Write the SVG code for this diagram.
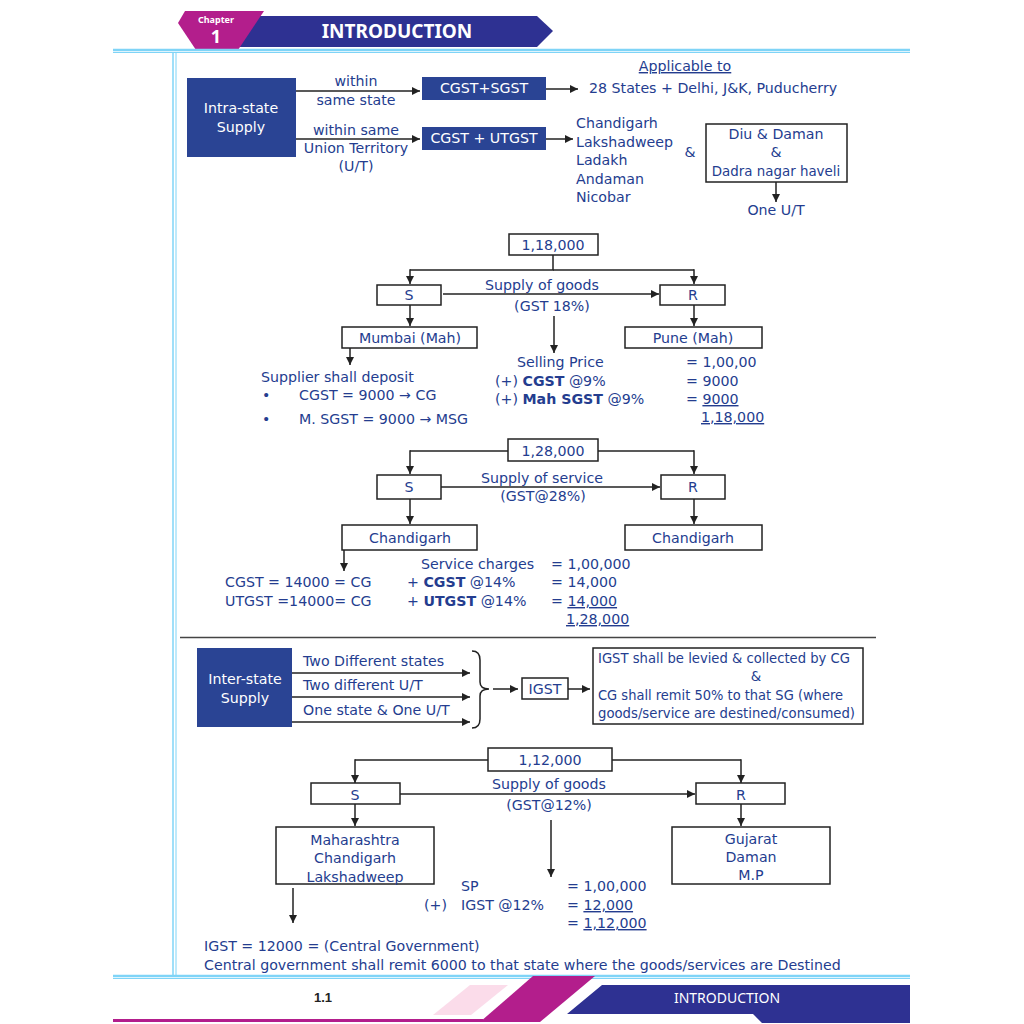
<svg xmlns="http://www.w3.org/2000/svg" width="1024" height="1024" viewBox="0 0 1024 1024">
<defs>
<marker id="ah" viewBox="0 0 10 10" refX="10" refY="5" markerWidth="8" markerHeight="8" markerUnits="userSpaceOnUse" orient="auto"><path d="M0,0 L10,5 L0,10 z" fill="#222"/></marker>
<style>
text{font-family:"DejaVu Sans","Noto Sans",sans-serif;font-size:14.2px;fill:#243d8f}
.c{text-anchor:middle}
.w{fill:#fff}
.b{font-weight:bold}
.u{text-decoration:underline}
.hd{font-family:"Noto Sans","Liberation Sans",sans-serif}
.sm{font-size:13.4px}
.box{fill:#fff;stroke:#222;stroke-width:1.5}
.dbox{fill:#2a4494}
.ln{fill:none;stroke:#222;stroke-width:1.5}
.ar{fill:none;stroke:#222;stroke-width:1.5;marker-end:url(#ah)}
.cy{stroke:#7fd4f7;fill:none}
</style>
</defs>
<rect width="1024" height="1024" fill="#fff"/>
<g id="page">
<polygon points="238,16 537,16 553,31 537,47 230,47" fill="#2e3192"/>
<polygon points="178,23 185,11 264,11 238,50 196,50" fill="#b31e8c"/>
<text x="216" y="23" class="c w b hd" style="font-size:9px">Chapter</text>
<text x="216" y="43" class="c w b hd" style="font-size:18px">1</text>
<text x="397" y="38" class="c w b hd" style="font-size:19px">INTRODUCTION</text>
<line x1="113" y1="50" x2="910" y2="50" class="cy" stroke-width="2.5"/>
<line x1="113" y1="52.5" x2="910" y2="52.5" class="cy" stroke-width="1"/>
<line x1="173" y1="52" x2="173" y2="976" class="cy" stroke-width="1.5"/>
<line x1="176" y1="52" x2="176" y2="976" class="cy" stroke-width="1"/>
<line x1="113" y1="976" x2="910" y2="976" class="cy" stroke-width="2.5"/>
<line x1="113" y1="978.5" x2="910" y2="978.5" class="cy" stroke-width="1"/>
<text x="323" y="1002" class="c b" style="font-size:13px;fill:#222;font-family:'Liberation Sans',sans-serif">1.1</text>
<rect x="113" y="1019" width="370" height="3" fill="#b31e8c"/>
<polygon points="433,1015 471,1015 508,985 470,985" fill="#fbdcea"/>
<polygon points="533,976 595,976 540,1022 480,1022" fill="#b31e8c"/>
<polygon points="602,985 910,985 910,1023 762,1023 753,1014 567,1014" fill="#2e3192"/>
<text x="727" y="1003" class="c w hd" style="font-size:14px">INTRODUCTION</text>
</g>
<g id="connectors">
<line x1="296" y1="91" x2="420" y2="91" class="ar"/>
<line x1="546" y1="89" x2="578" y2="89" class="ar"/>
<line x1="296" y1="139" x2="420" y2="139" class="ar"/>
<line x1="546" y1="139" x2="573" y2="139" class="ar"/>
<line x1="776" y1="182" x2="776" y2="202" class="ar"/>
<polyline points="553,255 553,270 410,270" class="ln"/>
<line x1="410" y1="269.3" x2="410" y2="284" class="ar"/>
<polyline points="553,270 694,270" class="ln"/>
<line x1="694" y1="269.3" x2="694" y2="284" class="ar"/>
<line x1="443" y1="294" x2="659" y2="294" class="ar"/>
<line x1="410" y1="305" x2="410" y2="326" class="ar"/>
<line x1="694" y1="305" x2="694" y2="326" class="ar"/>
<line x1="554" y1="316" x2="554" y2="353" class="ar"/>
<line x1="350" y1="348" x2="350" y2="365" class="ar"/>
<polyline points="508,451 410,451" class="ln"/>
<line x1="410" y1="450.3" x2="410" y2="474" class="ar"/>
<polyline points="598,451 694,451" class="ln"/>
<line x1="694" y1="450.3" x2="694" y2="474" class="ar"/>
<line x1="441" y1="487" x2="660" y2="487" class="ar"/>
<line x1="410" y1="499" x2="410" y2="524" class="ar"/>
<line x1="694" y1="499" x2="694" y2="524" class="ar"/>
<line x1="344" y1="550" x2="344" y2="571" class="ar"/>
<line x1="292" y1="673" x2="470" y2="673" class="ar"/>
<line x1="292" y1="697" x2="470" y2="697" class="ar"/>
<line x1="292" y1="722" x2="470" y2="722" class="ar"/>
<path d="M472,651 Q480,651 480,660 L480,682 Q480,689 489,689 Q480,689 480,696 L480,719 Q480,728 472,728" class="ln"/>
<line x1="493" y1="689" x2="518" y2="689" class="ar"/>
<line x1="568" y1="689" x2="590" y2="689" class="ar"/>
<polyline points="488,760 355,760" class="ln"/>
<line x1="355" y1="759.3" x2="355" y2="783" class="ar"/>
<polyline points="612,760 741,760" class="ln"/>
<line x1="741" y1="759.3" x2="741" y2="783" class="ar"/>
<line x1="400" y1="794" x2="695" y2="794" class="ar"/>
<line x1="355" y1="804" x2="355" y2="826" class="ar"/>
<line x1="741" y1="804" x2="741" y2="826" class="ar"/>
<line x1="551" y1="820" x2="551" y2="877" class="ar"/>
<line x1="293" y1="888" x2="293" y2="923" class="ar"/>
<line x1="180" y1="637.5" x2="876" y2="637.5" stroke="#444" stroke-width="1.5"/>
</g>
<g id="intra">
<rect x="187" y="78" width="109" height="79" class="dbox"/>
<text x="241" y="113" class="c w">Intra-state</text>
<text x="241" y="132" class="c w">Supply</text>
</g>
<g id="labels1">
<text x="356" y="86" class="c">within</text>
<text x="356" y="105" class="c">same state</text>
<text x="356" y="135" class="c">within same</text>
<text x="356" y="153" class="c">Union Territory</text>
<text x="356" y="171" class="c">(U/T)</text>
</g>
<g id="cgstsgst">
<rect x="422" y="77" width="124" height="23" class="dbox"/>
<text x="484" y="93" class="c w">CGST+SGST</text>
</g>
<g id="cgstutgst">
<rect x="422" y="127" width="124" height="23" class="dbox"/>
<text x="484" y="143" class="c w">CGST + UTGST</text>
</g>
<g id="applicable">
<text x="685" y="71" class="c u">Applicable to</text>
<text x="589" y="93">28 States + Delhi, J&amp;K, Puducherry</text>
</g>
<g id="utlist">
<text x="576" y="128">Chandigarh</text>
<text x="576" y="147">Lakshadweep</text>
<text x="576" y="165">Ladakh</text>
<text x="576" y="184">Andaman</text>
<text x="576" y="202">Nicobar</text>
<text x="690" y="157" class="c">&amp;</text>
</g>
<g id="diu">
<rect x="706" y="124" width="141" height="58" class="box"/>
<text x="776" y="139" class="c">Diu &amp; Daman</text>
<text x="776" y="157" class="c">&amp;</text>
<text x="776" y="176" class="c sm">Dadra nagar haveli</text>
<text x="776" y="215" class="c">One U/T</text>
</g>
<g id="ex1">
<rect x="509" y="234" width="89" height="21" class="box"/>
<text x="553" y="250" class="c">1,18,000</text>
<rect x="377" y="285" width="64" height="20" class="box"/>
<text x="409" y="300" class="c">S</text>
<rect x="660" y="285" width="65" height="20" class="box"/>
<text x="693" y="300" class="c">R</text>
<text x="542" y="290" class="c">Supply of goods</text>
<text x="552" y="311" class="c">(GST 18%)</text>
<rect x="342" y="327" width="135" height="21" class="box"/>
<text x="410" y="343" class="c">Mumbai (Mah)</text>
<rect x="625" y="327" width="137" height="21" class="box"/>
<text x="693" y="343" class="c">Pune (Mah)</text>
<text x="261" y="382">Supplier shall deposit</text>
<text x="262" y="400">•</text>
<text x="299" y="400">CGST = 9000 → CG</text>
<text x="262" y="424">•</text>
<text x="299" y="424">M. SGST = 9000 → MSG</text>
<text x="517" y="367">Selling Price</text>
<text x="495" y="386">(+) <tspan class="b">CGST</tspan> @9%</text>
<text x="495" y="404">(+) <tspan class="b">Mah SGST</tspan> @9%</text>
<text x="686" y="367">= 1,00,00</text>
<text x="686" y="386">= 9000</text>
<text x="686" y="404">= <tspan class="u">9000</tspan></text>
<text x="701" y="422" class="u">1,18,000</text>
</g>
<g id="ex2">
<rect x="508" y="439" width="90" height="22" class="box"/>
<text x="553" y="456" class="c">1,28,000</text>
<rect x="377" y="475" width="64" height="24" class="box"/>
<text x="409" y="492" class="c">S</text>
<rect x="661" y="475" width="64" height="24" class="box"/>
<text x="693" y="492" class="c">R</text>
<text x="542" y="483" class="c">Supply of service</text>
<text x="543" y="501" class="c">(GST@28%)</text>
<rect x="342" y="525" width="135" height="25" class="box"/>
<text x="410" y="543" class="c">Chandigarh</text>
<rect x="625" y="525" width="137" height="25" class="box"/>
<text x="693" y="543" class="c">Chandigarh</text>
<text x="225" y="587">CGST = 14000 = CG</text>
<text x="225" y="606">UTGST =14000= CG</text>
<text x="421" y="569">Service charges</text>
<text x="407" y="587">+ <tspan class="b">CGST</tspan> @14%</text>
<text x="407" y="606">+ <tspan class="b">UTGST</tspan> @14%</text>
<text x="551" y="569">= 1,00,000</text>
<text x="551" y="587">= 14,000</text>
<text x="551" y="606">= <tspan class="u">14,000</tspan></text>
<text x="566" y="624" class="u">1,28,000</text>
</g>
<g id="inter">
<rect x="197" y="648" width="95" height="79" class="dbox"/>
<text x="245" y="684" class="c w">Inter-state</text>
<text x="245" y="703" class="c w">Supply</text>
<text x="303" y="666">Two Different states</text>
<text x="303" y="690">Two different U/T</text>
<text x="303" y="715">One state &amp; One U/T</text>
</g>
<g id="igst">
<rect x="522" y="678" width="46" height="21" class="box"/>
<text x="545" y="694" class="c">IGST</text>
</g>
<g id="igstnote">
<rect x="593" y="648" width="270" height="76" class="box"/>
<text x="598" y="663" class="sm" textLength="252" lengthAdjust="spacingAndGlyphs">IGST shall be levied &amp; collected by CG</text>
<text x="756" y="681" class="c sm">&amp;</text>
<text x="598" y="700" class="sm" textLength="245" lengthAdjust="spacingAndGlyphs">CG shall remit 50% to that SG (where</text>
<text x="598" y="718" class="sm" textLength="257" lengthAdjust="spacingAndGlyphs">goods/service are destined/consumed)</text>
</g>
<g id="ex3">
<rect x="488" y="748" width="124" height="23" class="box"/>
<text x="550" y="765" class="c">1,12,000</text>
<rect x="311" y="783" width="89" height="21" class="box"/>
<text x="355" y="800" class="c">S</text>
<rect x="696" y="783" width="89" height="21" class="box"/>
<text x="741" y="800" class="c">R</text>
<text x="549" y="789" class="c">Supply of goods</text>
<text x="549" y="810" class="c">(GST@12%)</text>
<rect x="276" y="827" width="158" height="57" class="box"/>
<text x="355" y="845" class="c">Maharashtra</text>
<text x="355" y="863" class="c">Chandigarh</text>
<text x="355" y="882" class="c">Lakshadweep</text>
<rect x="672" y="827" width="158" height="57" class="box"/>
<text x="751" y="844" class="c">Gujarat</text>
<text x="751" y="862" class="c">Daman</text>
<text x="751" y="880" class="c">M.P</text>
<text x="461" y="891">SP</text>
<text x="567" y="891">= 1,00,000</text>
<text x="424" y="910">(+)</text>
<text x="461" y="910">IGST @12%</text>
<text x="567" y="910">= <tspan class="u">12,000</tspan></text>
<text x="567" y="928">=  <tspan class="u">1,12,000</tspan></text>
<text x="204" y="951">IGST = 12000 = (Central Government)</text>
<text x="204" y="970">Central government shall remit 6000 to that state where the goods/services are Destined</text>
</g>
</svg>
